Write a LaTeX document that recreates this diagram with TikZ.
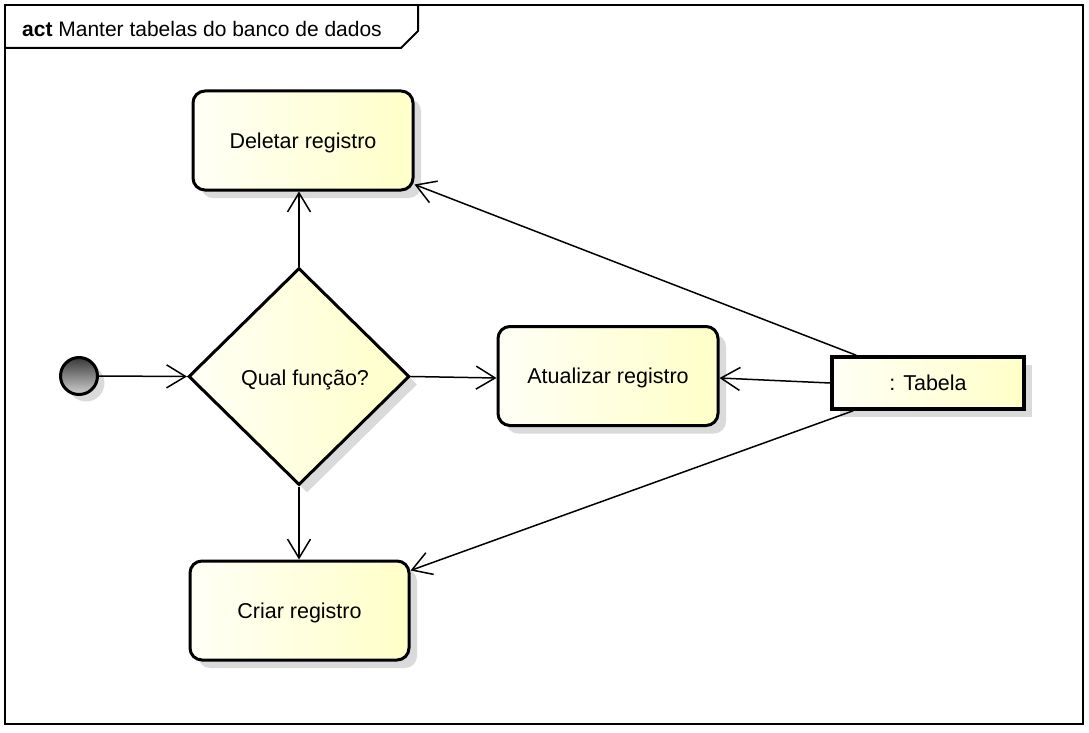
\documentclass[tikz,border=0pt]{standalone}
\usepackage{fontspec}
\setmainfont{Liberation Sans}
\usetikzlibrary{arrows.meta,shapes.geometric,shadows}
\definecolor{fillL}{RGB}{255,255,246}
\definecolor{fillR}{RGB}{255,255,200}
\definecolor{shadowgray}{RGB}{218,218,218}
\tikzset{
  shd/.style={drop shadow={shadow xshift=8pt,shadow yshift=-8pt,fill=shadowgray,opacity=1}},
  actbox/.style={draw=black,line width=3pt,rounded corners=12pt,left color=fillL,right color=fillR,
     minimum width=#1,minimum height=99pt,inner sep=0pt,shd,text height=15pt,text depth=0pt,
     font=\fontsize{21.5}{25}\selectfont},
  objbox/.style={draw=black,line width=3.5pt,left color=fillL,right color=fillR,
     minimum width=192pt,minimum height=52pt,inner sep=0pt,shd,font=\fontsize{21.5}{25}\selectfont},
  decbox/.style={diamond,draw=black,line width=3pt,left color=fillL,right color=fillR,
     minimum width=221pt,minimum height=217pt,inner sep=0pt,shd},
  conn/.style={line width=1.5pt,-{Straight Barb[length=19pt,width=23pt,line width=1.5pt]}},
  txt/.style={font=\fontsize{21.5}{25}\selectfont,inner sep=0pt}
}
\begin{document}
\begin{tikzpicture}[x=1pt,y=-1pt]
\useasboundingbox (0,0) rectangle (1089,733);
% frame
\draw[line width=2pt] (5,5) rectangle (1083,724);
\draw[line width=2pt] (5,48) -- (401,48) -- (418,31) -- (418,5);
\node[txt,font=\fontsize{21}{25}\selectfont,anchor=base west] (title) at (22,37) {\textbf{act} Manter tabelas do banco de dados};
% initial node
\fill[shadowgray] (86,383) circle (18.5pt);
\node[circle,draw=black,line width=3pt,minimum size=37pt,inner sep=0pt,
  shading=axis,shading angle=45,top color=black!78,bottom color=black!18] (init) at (79,376) {};
% nodes
\node[actbox=220pt] (del) at (303,140.5) {Deletar registro};
\node[decbox] (q) at (299,376.5) {};
\node[txt] (qtxt) at (305,380) {Qual função?};
\node[actbox=220pt] (at) at (608,376) {Atualizar registro};
\node[actbox=219pt] (cr) at (299.5,610.5) {Criar registro};
\node[objbox] (tab) at (928,383) {: Tabela};
% connectors
\draw[conn] (init.east) -- (q.west);
\draw[conn] (q.north) -- (q.north |- del.south);
\draw[conn] (q.east) -- ([yshift=-2pt]at.west);
\draw[conn] (q.south) -- (q.south |- cr.north);
\draw[conn] ([xshift=26pt]tab.north west) -- ([yshift=7pt]del.south east);
\draw[conn] (tab.west) -- ([yshift=-2pt]at.east);
\draw[conn] ([xshift=23pt]tab.south west) -- ([yshift=-11pt]cr.north east);
\end{tikzpicture}
\end{document}
